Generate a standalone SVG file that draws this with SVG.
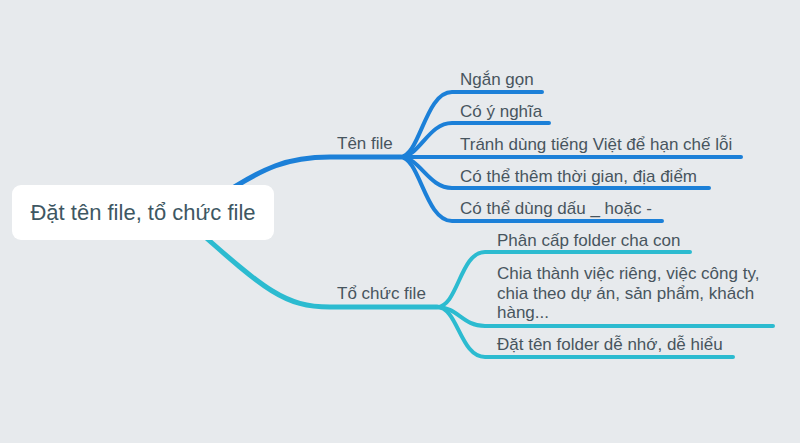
<svg xmlns="http://www.w3.org/2000/svg" width="800" height="443" viewBox="0 0 800 443">
<style>
.bg{fill:#e7eaed}
.blue{fill:none;stroke:#1c80d8;stroke-width:4;stroke-linecap:round}
.teal{fill:none;stroke:#2cbbd0;stroke-width:4;stroke-linecap:round}
.main{stroke-width:5}
text{font-family:"Liberation Sans",Arial,sans-serif;fill:#47555e}
.leaf{font-size:17px}
.br{font-size:17px}
.root{font-size:22px;fill:#3e5763}
</style>
<rect class="bg" x="0" y="0" width="800" height="443"/>
<g id="connectors">
<path class="blue main" d="M210,203 C265,165 290,157 330,157 L400,157"/>
<path class="teal main" d="M195,228 C265,290 285,307 330,307 L437,307"/>
<path class="blue" d="M400,157 C420,157 425,92 452,92 L542,92"/>
<path class="blue" d="M400,157 C420,157 428,123 452,123 L549,123"/>
<path class="blue" d="M400,157 L741,157"/>
<path class="blue" d="M400,157 C420,157 428,188 452,188 L709,188"/>
<path class="blue" d="M400,157 C420,157 425,221 452,221 L662,221"/>
<path class="teal" d="M437,307 C458,307 460,252 485,252 L690,252"/>
<path class="teal" d="M437,307 C458,307 462,326 485,326 L773,326"/>
<path class="teal" d="M437,307 C458,307 460,357 485,357 L733,357"/>
</g>
<g id="root">
<rect x="12" y="185" width="262" height="55" rx="9" fill="#ffffff"/>
<text class="root" x="143" y="220" text-anchor="middle">Đặt tên file, tổ chức file</text>
</g>
<g id="ten-file"><text class="br" x="337" y="149">Tên file</text></g>
<g id="to-chuc-file"><text class="br" x="337" y="299">Tổ chức file</text></g>
<g id="n1"><text class="leaf" x="460" y="85">Ngắn gọn</text></g>
<g id="n2"><text class="leaf" x="460" y="117">Có ý nghĩa</text></g>
<g id="n3"><text class="leaf" x="460" y="150">Tránh dùng tiếng Việt để hạn chế lỗi</text></g>
<g id="n4"><text class="leaf" x="460" y="182">Có thể thêm thời gian, địa điểm</text></g>
<g id="n5"><text class="leaf" x="460" y="214">Có thể dùng dấu _ hoặc -</text></g>
<g id="m1"><text class="leaf" x="497" y="246">Phân cấp folder cha con</text></g>
<g id="m2"><text class="leaf" x="497" y="279">Chia thành việc riêng, việc công ty,</text><text class="leaf" x="497" y="299">chia theo dự án, sản phẩm, khách</text><text class="leaf" x="497" y="318">hàng...</text></g>
<g id="m3"><text class="leaf" x="497" y="350">Đặt tên folder dễ nhớ, dễ hiểu</text></g>
</svg>
